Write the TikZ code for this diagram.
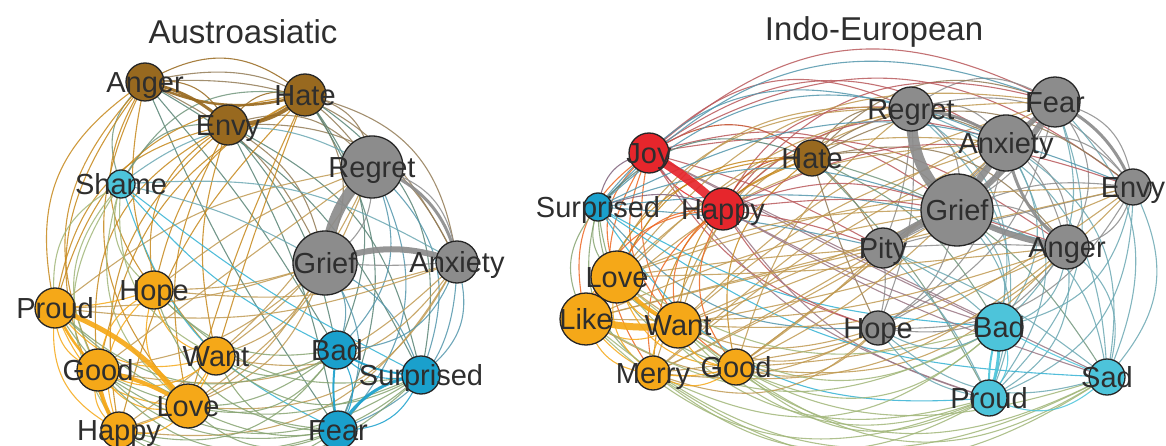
\documentclass[tikz,border=0pt]{standalone}
\usepackage{fontspec}
\setmainfont{Liberation Sans}
\usetikzlibrary{calc}
\pgfdeclarelayer{bg}
\pgfsetlayers{bg,main}

\definecolor{cB}{HTML}{98691F}% brown
\definecolor{cO}{HTML}{F5A818}% orange
\definecolor{cG}{HTML}{8C8C8C}% grey
\definecolor{cC}{HTML}{4DC4DA}% light cyan
\definecolor{cD}{HTML}{1AA0CC}% blue
\definecolor{cR}{HTML}{E6262C}% red
\definecolor{ink}{HTML}{2E2E2E}

\tikzset{
  vert/.style={circle, inner sep=0pt, draw=black!85, line width=1.3pt},
  vlabel/.style={text=ink, font=\fontsize{29}{30}\selectfont, inner sep=0pt,
                 text height=21pt, text depth=0pt},
  paneltitle/.style={text=ink, font=\fontsize{33}{35}\selectfont, inner sep=0pt},
  link/.style={line width=1.1pt, opacity=0.85},
  heavy/.style={line width=#1, opacity=0.92},
}

% index/name/x/y/radius/colour (pixel units, y downwards)
\def\Alist{1/Anger/145/82/19/cB, 2/Envy/228/125/20/cB, 3/Hate/305/95/21/cB,
  4/Regret/372/167/31/cG, 5/Shame/121/184/14/cC, 6/Grief/325/263/32/cG,
  7/Anxiety/457/262/21/cG, 8/Proud/55/308/20/cO, 9/Hope/154/290/19/cO,
  10/Good/98/370/21/cO, 11/Want/216/356/19/cO, 12/Love/188/406/22/cO,
  13/Happy/119/430/18/cO, 14/Bad/337/350/19/cD, 15/Surprised/421/375/19/cD,
  16/Fear/338/430/19/cD}
\def\Blist{1/Joy/649/153/20/cR, 2/Regret/911/109/22/cG, 3/Fear/1055/102/25/cG,
  4/Anxiety/1006/143/28/cG, 5/Hate/812/158/18/cB, 6/Envy/1133/187/18/cG,
  7/Surprised/598/207/14/cD, 8/Happy/723/209/21/cR, 9/Grief/957/210/36/cG,
  10/Pity/883/248/20/cG, 11/Anger/1067/247/22/cG, 12/Love/617/277/26/cO,
  13/Like/586/319/26/cO, 14/Want/678/325/23/cO, 15/Hope/878/328/17/cG,
  16/Bad/999/327/24/cC, 17/Merry/653/373/17/cO, 18/Good/736/367/18/cO,
  19/Sad/1107/377/18/cC, 20/Proud/989/398/18/cC}

\begin{document}
\begin{tikzpicture}[x=1pt,y=-1pt]
\useasboundingbox (0,0) rectangle (1166,446);

\node[paneltitle] (tA) at (243,32) {Austroasiatic};
\node[paneltitle] (tB) at (874,32) {Indo-European};

% vertices
\foreach \i/\nm/\x/\y/\r/\c in \Alist {
  \node[vert, fill=\c, minimum size=2*\r] (A\i) at (\x,\y) {};
  \xglobal\colorlet{Acol\i}{\c}
}
\foreach \i/\nm/\x/\y/\r/\c in \Blist {
  \node[vert, fill=\c, minimum size=2*\r] (B\i) at (\x,\y) {};
  \xglobal\colorlet{Bcol\i}{\c}
}
% vertex labels on top of all circles
\foreach \i/\nm/\x/\y/\r/\c in \Alist { \node[vlabel] (At\i) at (A\i) {\nm}; }
\foreach \i/\nm/\x/\y/\r/\c in \Blist { \node[vlabel] (Bt\i) at (B\i) {\nm}; }

\begin{pgfonlayer}{bg}
% thin curved links: bent away from the middle of the network, the more so
% the farther the chord runs from that middle
\foreach \i in {1,...,15}{
  \pgfmathtruncatemacro\ip{\i+1}
  \foreach \j in {\ip,...,16}{
    \draw[link, draw=Acol\i!50!Acol\j]
      let \p1=(A\i.center), \p2=(A\j.center),
          \n1={34*max(-1,min(1,(((\x2-\x1)*0.01)*(((\y1+\y2)/2+255)*0.01) - ((\y2-\y1)*0.01)*(((\x1+\x2)/2-255)*0.01))*125/veclen(\x2-\x1,\y2-\y1)))}
      in (A\i.center) to[bend left=\n1, looseness=1.15] (A\j.center);
  }
}
\foreach \i in {1,...,19}{
  \pgfmathtruncatemacro\ip{\i+1}
  \foreach \j in {\ip,...,20}{
    \draw[link, draw=Bcol\i!50!Bcol\j]
      let \p1=(B\i.center), \p2=(B\j.center),
          \n1={34*max(-1,min(1,(((\x2-\x1)*0.01)*(((\y1+\y2)/2+255)*0.01) - ((\y2-\y1)*0.01)*(((\x1+\x2)/2-860)*0.01))*125/veclen(\x2-\x1,\y2-\y1)))}
      in (B\i.center) to[bend left=\n1, looseness=1.15] (B\j.center);
  }
}
% strong links
\foreach \a/\b/\w/\c/\bend in {4/6/11pt/cG/-20, 6/7/6pt/cG/20, 4/7/3pt/cG/30,
    1/2/3pt/cB/15, 2/3/4pt/cB/-20, 1/3/2.5pt/cB/-20,
    8/12/5pt/cO/15, 8/10/2.5pt/cO/-10, 10/13/4pt/cO/-15, 10/12/4pt/cO/10,
    16/15/3pt/cD/25, 14/16/2pt/cD/-10, 14/15/2pt/cD/-15}{
  \draw[heavy=\w, draw=\c] (A\a.center) to[bend left=\bend] (A\b.center);
}
\foreach \a/\b/\w/\c/\bend in {1/8/9pt/cR/5, 2/9/11pt/cG/-25, 4/9/7pt/cG/0,
    3/9/6pt/cG/10, 3/4/5pt/cG/0, 10/9/8pt/cG/10, 9/11/6pt/cG/-10,
    4/11/3pt/cG/-20, 3/6/3pt/cG/20, 2/4/3pt/cG/15,
    13/14/7pt/cO/-10, 12/14/4pt/cO/-15, 12/13/3pt/cO/0,
    16/20/3pt/cC/10, 16/20/2pt/cC/-10}{
  \draw[heavy=\w, draw=\c] (B\a.center) to[bend left=\bend] (B\b.center);
}
\end{pgfonlayer}
\end{tikzpicture}
\end{document}
